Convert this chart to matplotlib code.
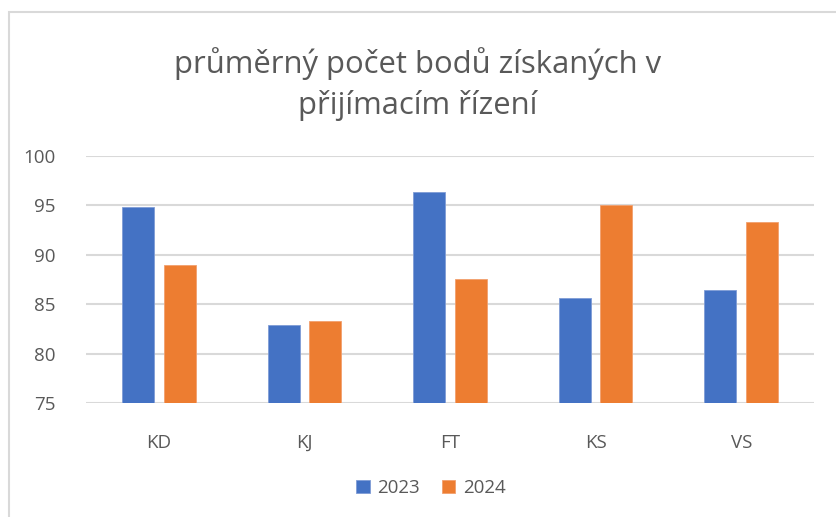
import matplotlib
matplotlib.use("Agg")
import matplotlib.pyplot as plt
import numpy as np
from matplotlib.patches import Rectangle

categories = ["KD", "KJ", "FT", "KS", "VS"]
series_names = ["2023", "2024"]
values_2023 = [94.8, 82.9, 96.4, 85.6, 86.4]
values_2024 = [89.0, 83.3, 87.6, 95.0, 93.3]
yticks = [75, 80, 85, 90, 95, 100]
title = "průměrný počet bodů získaných v\npřijímacím řízení"

colors = ["#4472C4", "#ED7D31"]
text_color = "#595959"
font = ["Open Sans", "DejaVu Sans"]

fig = plt.figure(figsize=(8.36, 5.17), dpi=100)
fig.patch.set_facecolor("white")

# chart border
fig.add_artist(Rectangle((9 / 836, -0.05), 1.0, 1 - 12 / 517 + 0.05,
                         transform=fig.transFigure, fill=False,
                         edgecolor="#D9D9D9", linewidth=1.5))

ax = fig.add_axes([86 / 836, 1 - 403 / 517, (814 - 86) / 836, (403 - 156) / 517])
x = np.arange(len(categories))
w = 0.22
off = 0.143
ax.bar(x - off, values_2023, width=w, color=colors[0], edgecolor="#7F9CD6",
       linewidth=0.6, label=series_names[0], zorder=3)
ax.bar(x + off, values_2024, width=w, color=colors[1], edgecolor="#F2A06E",
       linewidth=0.6, label=series_names[1], zorder=3)

ax.set_xlim(-0.5, len(categories) - 0.5)
ax.set_ylim(75, 100)
ax.set_yticks(yticks)
ax.set_xticks(x)
ax.set_xticklabels(categories)
for s in ax.spines.values():
    s.set_visible(False)
ax.yaxis.grid(True, color="#D9D9D9", linewidth=1.5, zorder=0)
ax.tick_params(axis="both", length=0, labelsize=13.5, labelcolor=text_color)
ax.tick_params(axis="y", pad=22)
ax.tick_params(axis="x", pad=22)
for lbl in ax.get_xticklabels() + ax.get_yticklabels():
    lbl.set_family(font)

fig.text(0.5, 1 - 84 / 517, title, ha="center", va="center", fontsize=22.3,
         color=text_color, family=font, linespacing=1.42)

leg = fig.legend(loc="center", bbox_to_anchor=(431 / 836, 1 - 488 / 517), ncol=2,
                 frameon=False, prop={"family": font, "size": 13.5},
                 handlelength=0.7, handleheight=0.7, handletextpad=0.4,
                 columnspacing=1.2)
for t in leg.get_texts():
    t.set_color(text_color)

fig.savefig("out.png", dpi=100, facecolor="white")
